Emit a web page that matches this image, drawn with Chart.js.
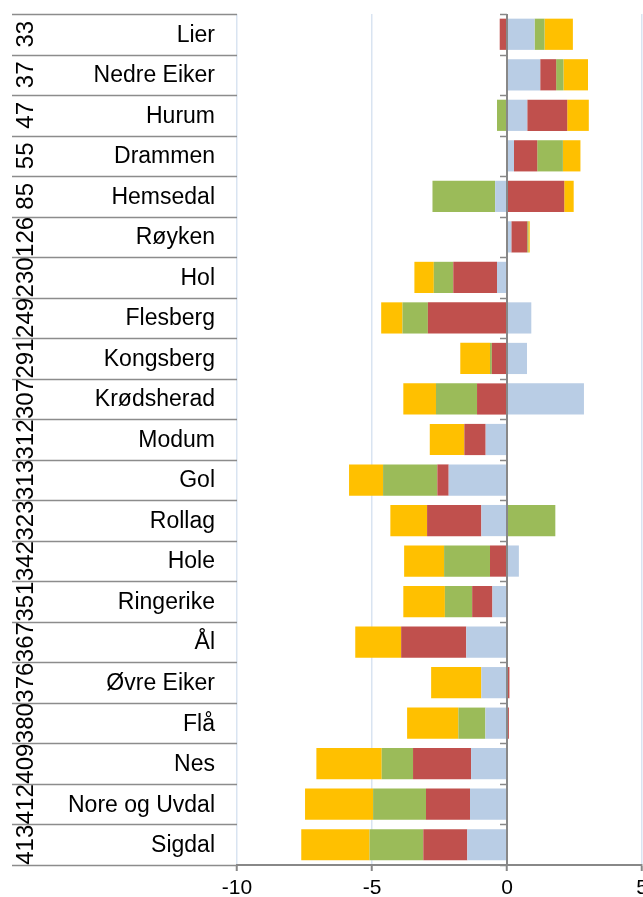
<!DOCTYPE html>
<html>
<head>
<meta charset="utf-8">
<script src="https://cdn.jsdelivr.net/npm/chart.js@4.4.1/dist/chart.umd.min.js"></script>
<style>
  html, body { margin: 0; padding: 0; background: #fff; }
</style>
</head>
<body>
<canvas id="graph" width="643" height="897"></canvas>
<script>
// DATA
const names = ['Lier', 'Nedre Eiker', 'Hurum', 'Drammen', 'Hemsedal', 'Røyken', 'Hol', 'Flesberg', 'Kongsberg', 'Krødsherad', 'Modum', 'Gol', 'Rollag', 'Hole', 'Ringerike', 'Ål', 'Øvre Eiker', 'Flå', 'Nes', 'Nore og Uvdal', 'Sigdal'];
const ranks = [33, 37, 47, 55, 85, 126, 230, 249, 291, 307, 312, 313, 323, 342, 351, 367, 376, 380, 409, 412, 413];

const blueValues = [1.02, 1.23, 0.75, 0.26, -0.44, 0.16, -0.37, 0.90, 0.74, 2.85, -0.79, -2.16, -0.95, 0.44, -0.54, -1.51, -0.95, -0.80, -1.33, -1.37, -1.47];
const redValues = [-0.27, 0.59, 1.48, 0.86, 2.12, 0.59, -1.62, -2.93, -0.56, -1.11, -0.79, -0.42, -2.01, -0.63, -0.75, -2.41, 0.09, 0.07, -2.15, -1.63, -1.63];
const greenValues = [0.37, 0.27, -0.37, 0.95, -2.32, 0.04, -0.72, -0.94, -0.07, -1.52, 0, -2.01, 1.79, -1.70, -1.01, 0, 0, -1.00, -1.16, -1.96, -1.99];
const yellowValues = [1.05, 0.91, 0.80, 0.65, 0.35, 0.05, -0.72, -0.79, -1.10, -1.21, -1.28, -1.26, -1.36, -1.48, -1.54, -1.70, -1.86, -1.90, -2.42, -2.52, -2.53];

const xTicks = [-10, -5, 0, 5];

const FONT = '"Liberation Sans", Arial, sans-serif';
const AXIS_GRAY = '#888888';

// draws the label table on the left and the zero axis on top of the bars
const labelTable = {
    id: 'labelTable',
    afterDatasetsDraw(chart) {
        const ctx = chart.ctx;
        const area = chart.chartArea;
        const x0 = chart.scales.x.getPixelForValue(0);
        const row = (area.bottom - area.top) / names.length;

        ctx.save();
        // zero axis
        ctx.strokeStyle = AXIS_GRAY;
        ctx.lineWidth = 2;
        ctx.beginPath();
        ctx.moveTo(x0, area.top);
        ctx.lineTo(x0, area.bottom);
        ctx.stroke();

        // separators + small ticks on zero axis
        ctx.lineWidth = 1.5;
        for (let i = 0; i <= names.length; i++) {
            let y = Math.round(area.top + i * row) + 0.5;
            ctx.strokeStyle = '#8c8c8c';
            ctx.beginPath();
            ctx.moveTo(12, y);
            ctx.lineTo(area.left, y);
            ctx.stroke();
            ctx.strokeStyle = AXIS_GRAY;
            ctx.beginPath();
            ctx.moveTo(x0 - 7, y);
            ctx.lineTo(x0, y);
            ctx.stroke();
        }

        // names and ranks
        ctx.fillStyle = '#000';
        ctx.textBaseline = 'middle';
        names.forEach((name, i) => {
            let yc = area.top + (i + 0.5) * row;
            ctx.font = '23px ' + FONT;
            ctx.textAlign = 'right';
            ctx.fillText(name, 215, yc + 1);

            ctx.save();
            ctx.font = '24px ' + FONT;
            ctx.translate(25, yc);
            ctx.rotate(-Math.PI / 2);
            ctx.textAlign = 'center';
            ctx.fillText(String(ranks[i]), 0, 1);
            ctx.restore();
        });
        ctx.restore();
    }
};

function makeDataset(label, values, color) {
    return {
        label: label,
        data: values,
        backgroundColor: color,
        borderWidth: 0,
        barPercentage: 0.77,
        categoryPercentage: 1.0
    };
}

const graph = new Chart(document.getElementById('graph'), {
    type: 'bar',
    data: {
        labels: names,
        datasets: [
            makeDataset('Serie 1', blueValues, '#B9CDE5'),
            makeDataset('Serie 2', redValues, '#C0504D'),
            makeDataset('Serie 3', greenValues, '#9BBB59'),
            makeDataset('Serie 4', yellowValues, '#FFC000')
        ]
    },
    options: {
        indexAxis: 'y',
        responsive: false,
        animation: false,
        layout: { padding: { left: 237, top: 14, right: 1, bottom: 0 } },
        plugins: {
            legend: { display: false },
            tooltip: { enabled: false }
        },
        scales: {
            x: {
                stacked: true,
                min: -10,
                max: 5,
                afterBuildTicks: (scale) => {
                    scale.ticks = xTicks.map(v => ({ value: v }));
                },
                afterFit: (scale) => {
                    scale.paddingLeft = 0;
                    scale.paddingRight = 0;
                    scale.height = 32;
                },
                ticks: {
                    color: '#000',
                    font: { family: FONT, size: 21 },
                    padding: 5,
                    maxRotation: 0
                },
                grid: {
                    color: (c) => c.tick && c.tick.value === 0 ? AXIS_GRAY : '#d9e4f1',
                    lineWidth: 1.5,
                    drawTicks: true,
                    tickLength: 6,
                    tickColor: AXIS_GRAY,
                    tickWidth: 2
                },
                border: { display: true, color: AXIS_GRAY, width: 2 }
            },
            y: {
                stacked: true,
                display: false
            }
        }
    },
    plugins: [labelTable]
});
</script>
</body>
</html>
